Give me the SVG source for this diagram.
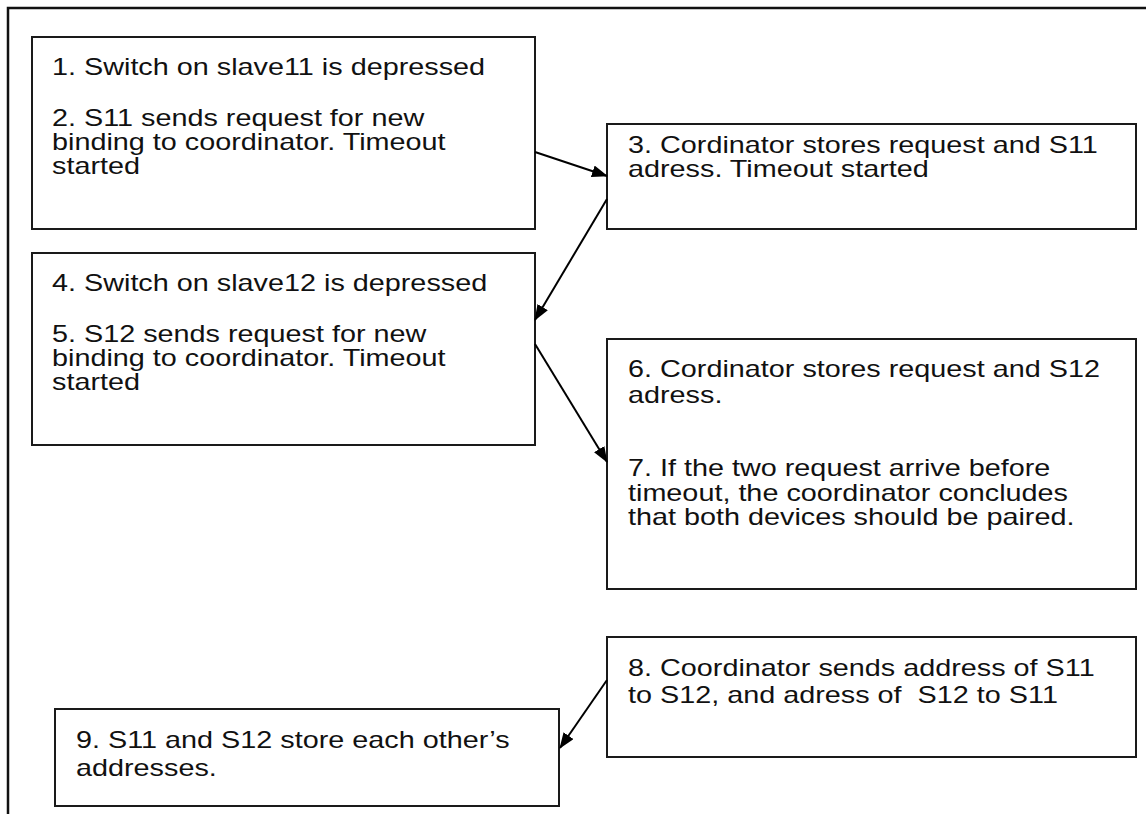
<svg xmlns="http://www.w3.org/2000/svg" width="1146" height="814" viewBox="0 0 1146 814">
  <style>
    .box { fill: #ffffff; stroke: #1a1a1a; stroke-width: 2; }
    .frame { fill: none; stroke: #111111; stroke-width: 2.5; }
    .t { font-family: "Liberation Sans", Arial, sans-serif; font-size: 23px; fill: #111111; white-space: pre; }
    .conn { stroke: #000000; stroke-width: 2; fill: none; marker-end: url(#head); }
  </style>
  <defs>
    <marker id="head" viewBox="0 0 16 12" refX="15" refY="6" markerWidth="16" markerHeight="12" markerUnits="userSpaceOnUse" orient="auto">
      <path d="M0,0 L16,6 L0,12 Z" fill="#000000"/>
    </marker>
  </defs>

  <rect width="1146" height="814" fill="#ffffff"/>
  <!-- page frame: top and left edges -->
  <path class="frame" d="M8,814 L8,8 L1146,8"/>

  <g id="node1">
    <rect class="box" x="32" y="37" width="503" height="192"/>
    <text class="t" transform="translate(52 0) scale(1.252 1)">
      <tspan x="0" y="75">1. Switch on slave11 is depressed</tspan>
      <tspan x="0" y="126">2. S11 sends request for new</tspan>
      <tspan x="0" y="150">binding to coordinator. Timeout</tspan>
      <tspan x="0" y="174">started</tspan>
    </text>
  </g>

  <g id="node3">
    <rect class="box" x="607" y="124" width="529" height="105"/>
    <text class="t" transform="translate(628 0) scale(1.252 1)">
      <tspan x="0" y="153">3. Cordinator stores request and S11</tspan>
      <tspan x="0" y="177">adress. Timeout started</tspan>
    </text>
  </g>

  <g id="node4">
    <rect class="box" x="32" y="253" width="503" height="192"/>
    <text class="t" transform="translate(52 0) scale(1.252 1)">
      <tspan x="0" y="291">4. Switch on slave12 is depressed</tspan>
      <tspan x="0" y="342">5. S12 sends request for new</tspan>
      <tspan x="0" y="366">binding to coordinator. Timeout</tspan>
      <tspan x="0" y="390">started</tspan>
    </text>
  </g>

  <g id="node6">
    <rect class="box" x="607" y="339" width="529" height="250"/>
    <text class="t" transform="translate(628 0) scale(1.252 1)">
      <tspan x="0" y="377">6. Cordinator stores request and S12</tspan>
      <tspan x="0" y="403">adress.</tspan>
      <tspan x="0" y="476">7. If the two request arrive before</tspan>
      <tspan x="0" y="501">timeout, the coordinator concludes</tspan>
      <tspan x="0" y="525">that both devices should be paired.</tspan>
    </text>
  </g>

  <g id="node8">
    <rect class="box" x="607" y="637" width="529" height="120"/>
    <text class="t" transform="translate(628 0) scale(1.252 1)">
      <tspan x="0" y="676">8. Coordinator sends address of S11</tspan>
      <tspan x="0" y="703">to S12, and adress of  S12 to S11</tspan>
    </text>
  </g>

  <g id="node9">
    <rect class="box" x="55" y="709" width="504" height="97"/>
    <text class="t" transform="translate(76 0) scale(1.252 1)">
      <tspan x="0" y="748">9. S11 and S12 store each other’s</tspan>
      <tspan x="0" y="776">addresses.</tspan>
    </text>
  </g>

  <g id="connectors">
    <line class="conn" x1="535" y1="152" x2="607" y2="176"/>
    <line class="conn" x1="607" y1="199" x2="535" y2="320"/>
    <line class="conn" x1="535" y1="344" x2="607" y2="462"/>
    <line class="conn" x1="607" y1="680" x2="560" y2="748"/>
  </g>
</svg>
